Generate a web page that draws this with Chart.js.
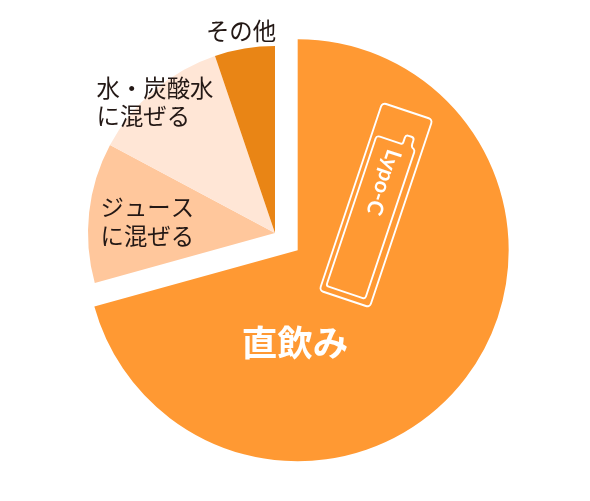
<!DOCTYPE html>
<html><head><meta charset="utf-8">
<style>html,body{margin:0;padding:0;background:#fff}#w{position:relative;width:590px;height:501px}</style>
<script src="https://cdn.jsdelivr.net/npm/chart.js@4"></script></head>
<body><div id="w"><canvas id="c" width="590" height="501"></canvas></div>
<script>
const categories = ['直飲み','ジュースに混ぜる','水・炭酸水に混ぜる','その他'];
const values = [70.7, 12.1, 12.0, 5.2];
const colors = ['#FF9933','#FFC79C','#FFE6D6','#E98515'];
const offsets = [114, 0, 0, 0];
const labelLines = [['直飲み'],['ジュース','に混ぜる'],['水・炭酸水','に混ぜる'],['その他']];
const JP = '"Noto Sans CJK JP"';
const labelSpots = [
 {x:295,y:343,align:'center',font:'700 35.5px '+JP,color:'#fff'},
 {x:100.5,y:207,align:'left',font:'400 23.4px '+JP,color:'#231815',lh:29},
 {x:96.5,y:88,align:'left',font:'400 23.4px '+JP,color:'#231815',lh:28.5},
 {x:241,y:31,align:'center',font:'400 23.4px '+JP,color:'#231815'}
];
const bigRadius = 211;
const radiusFix = {id:'radiusFix',afterDatasetsUpdate(chart){
  const arc = chart.getDatasetMeta(0).data[0];
  const shift = (arc.options.offset||0)/4;
  arc.outerRadius = bigRadius - shift;
  // Chart.js narrows an offset arc's angles; restore the true data angles
  const d = shift/Math.PI/bigRadius/2;
  arc.startAngle -= d; arc.endAngle += d;
}};
const labelPlugin = {id:'labels',afterDatasetsDraw(chart){
  const ctx = chart.ctx; ctx.save(); ctx.textBaseline='middle';
  labelLines.forEach((lines,i)=>{const s=labelSpots[i];
    ctx.font=s.font;ctx.fillStyle=s.color;ctx.textAlign=s.align;
    lines.forEach((t,j)=>ctx.fillText(t,s.x,s.y+j*(s.lh||0)));});
  ctx.restore();
  // product pictogram
  ctx.save();ctx.translate(376,205);ctx.rotate(18.5*Math.PI/180);
  ctx.strokeStyle='#fff';ctx.lineWidth=1.9;ctx.lineJoin='round';
  ctx.beginPath();ctx.roundRect(-26.5,-99,53,198,4);ctx.stroke();
  ctx.beginPath();ctx.moveTo(-18,-66);ctx.lineTo(4,-66);ctx.quadraticCurveTo(6,-66,6,-68);ctx.lineTo(6,-73);
  ctx.quadraticCurveTo(6,-76,9,-76);ctx.lineTo(12,-76);ctx.quadraticCurveTo(15,-76,15,-73);ctx.lineTo(15,-69);
  ctx.quadraticCurveTo(15,-66,18,-65);ctx.quadraticCurveTo(19.5,-64,19.5,-62);ctx.lineTo(19.5,90);
  ctx.quadraticCurveTo(19.5,92.5,17,92.5);ctx.lineTo(-19,92.5);ctx.quadraticCurveTo(-21.5,92.5,-21.5,90);
  ctx.lineTo(-21.5,-63);ctx.quadraticCurveTo(-21.5,-66,-18,-66);ctx.closePath();ctx.stroke();
  ctx.rotate(Math.PI/2);ctx.fillStyle='#fff';ctx.font='700 21.5px Lato';ctx.textAlign='center';ctx.textBaseline='middle';
  ctx.fillText('Lypo-C',-24,0);
  ctx.restore();
}};
new Chart(document.getElementById('c'),{
  type:'pie',
  data:{labels:categories,datasets:[{data:values,backgroundColor:colors,borderWidth:0,offset:offsets}]},
  options:{responsive:false,animation:false,radius:187,
    layout:{padding:{left:0,right:40,top:0,bottom:35}},
    plugins:{legend:{display:false},tooltip:{enabled:false}}},
  plugins:[radiusFix,labelPlugin]
});
</script></body></html>
